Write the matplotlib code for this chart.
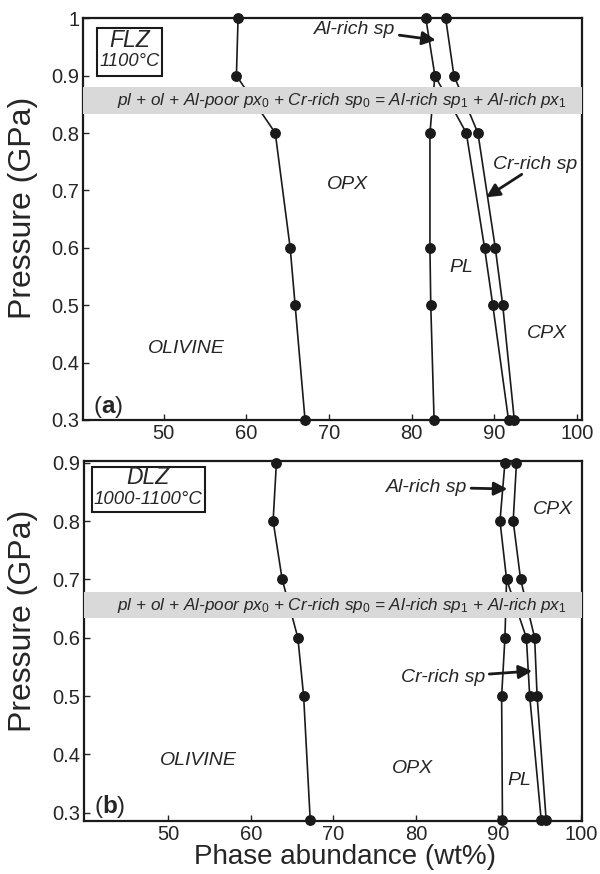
import matplotlib
matplotlib.use("Agg")
import matplotlib.pyplot as plt
import matplotlib.patches as patches

plt.rcParams['font.family'] = ['Liberation Sans', 'DejaVu Sans']
plt.rcParams['mathtext.fontset'] = 'custom'
plt.rcParams['mathtext.rm'] = 'Liberation Sans'
plt.rcParams['mathtext.it'] = 'Liberation Sans:italic'
plt.rcParams['mathtext.bf'] = 'Liberation Sans:bold'

# (a) FLZ, 1100 C - phase boundaries (cumulative wt%) vs pressure
flz_p = [1.0, 0.9, 0.8, 0.6, 0.5, 0.3]
flz_ol_opx = [59.0, 58.8, 63.5, 65.3, 65.9, 67.1]
flz_opx_pl = [81.7, 82.8, 82.2, 82.2, 82.3, 82.7]
flz_pl_sp_p = [0.9, 0.8, 0.6, 0.5, 0.3]
flz_pl_sp = [82.8, 86.6, 88.8, 89.8, 91.7]
flz_sp_cpx = [84.1, 85.1, 88.0, 90.1, 91.0, 92.4]
flz_band = (0.834, 0.880)

# (b) DLZ, 1000-1100 C
dlz_p = [0.9, 0.8, 0.7, 0.6, 0.5, 0.287]
dlz_ol_opx = [63.1, 62.7, 63.8, 65.7, 66.4, 67.2]
dlz_opx_pl = [90.8, 90.2, 91.0, 90.8, 90.4, 90.5]
dlz_pl_sp_p = [0.7, 0.6, 0.5, 0.287]
dlz_pl_sp = [91.0, 93.4, 93.8, 95.2]
dlz_sp_cpx = [92.2, 91.8, 92.7, 94.4, 94.7, 95.8]
dlz_band = (0.633, 0.679)

x_ticks = [50, 60, 70, 80, 90, 100]
reaction = (r'pl + ol + Al-poor px$_0$ + Cr-rich sp$_0$ = '
            r'Al-rich sp$_1$ + Al-rich px$_1$')

LINE = '#1a1a1a'
TEXT = '#262626'


def draw_boundary(ax, xs, ps):
    ax.plot(xs, ps, '-', color=LINE, lw=1.2, zorder=3, clip_on=False)
    ax.plot(xs, ps, 'o', color=LINE, ms=6.8, zorder=4, clip_on=False)


def style_axes(ax, xlim, ylim, yticks, ylab_y):
    ax.set_xlim(*xlim)
    ax.set_ylim(*ylim)
    ax.set_xticks(x_ticks)
    ax.set_yticks(yticks)
    ax.set_yticklabels(['%g' % v for v in yticks])
    ax.tick_params(direction='in', length=4, width=1, labelsize=14.5,
                   colors=TEXT, pad=3)
    for s in ax.spines.values():
        s.set_linewidth(1.6)
        s.set_color(LINE)
    ax.set_ylabel('Pressure (GPa)', fontsize=23, color=TEXT)
    ax.yaxis.set_label_coords(-0.092, ylab_y)


def draw_band(ax, band, xc):
    # grey strip for the reaction, drawn over the boundary lines
    ax.axhspan(band[0], band[1], color='#d9d9d9', lw=0, zorder=3.5)
    ax.text(xc, (band[0] + band[1]) / 2, reaction, fontsize=12.3,
            style='italic', ha='center', va='center', color=TEXT, zorder=5)


def label(ax, x, y, s, size=14):
    ax.text(x, y, s, fontsize=size, style='italic', ha='center', va='center',
            color=TEXT, zorder=5)


def arrow(ax, text_xy, tip_xy, s):
    ax.annotate(s, xy=tip_xy, xytext=text_xy, fontsize=14, style='italic',
                ha='right', va='center', color=TEXT, zorder=6,
                arrowprops=dict(arrowstyle='-|>', lw=2, color=LINE,
                                mutation_scale=20, shrinkA=1, shrinkB=0))


def zone_box(ax, x0, y0, w, h, lines):
    ax.add_patch(patches.Rectangle((x0, y0), w, h, fill=False, ec=LINE,
                                   lw=1.5, zorder=5))
    for (yy, txt, size) in lines:
        label(ax, x0 + w / 2, yy, txt, size)


fig = plt.figure(figsize=(6, 8.74), dpi=100)

# panel (a)
ax1 = fig.add_axes([0.139, 0.5195, 0.8312, 0.4596])
style_axes(ax1, (40.3, 100.6), (0.3, 1.0),
           [0.3, 0.4, 0.5, 0.6, 0.7, 0.8, 0.9, 1.0], 0.528)
draw_band(ax1, flz_band, 71.6)
draw_boundary(ax1, flz_ol_opx, flz_p)
draw_boundary(ax1, flz_opx_pl, flz_p)
draw_boundary(ax1, flz_pl_sp, flz_pl_sp_p)
draw_boundary(ax1, flz_sp_cpx, flz_p)
label(ax1, 52.7, 0.425, 'OLIVINE')
label(ax1, 72.2, 0.71, 'OPX')
label(ax1, 86.0, 0.566, 'PL')
label(ax1, 96.3, 0.45, 'CPX')
arrow(ax1, (78.0, 0.981), (82.9, 0.962), 'Al-rich sp')
ax1.annotate('', xy=(89.0, 0.688), xytext=(93.3, 0.728),
             arrowprops=dict(arrowstyle='-|>', lw=2, color=LINE,
                             mutation_scale=20, shrinkA=0, shrinkB=0), zorder=6)
label(ax1, 94.9, 0.745, 'Cr-rich sp')
zone_box(ax1, 41.9, 0.9, 7.9, 0.083,
         [(0.962, 'FLZ', 16.5), (0.925, '1100°C', 13.2)])
ax1.text(41.5, 0.322, r'($\mathbf{a}$)', fontsize=17.5, ha='left', va='center',
         color=TEXT)

# panel (b)
ax2 = fig.add_axes([0.1403, 0.0604, 0.8305, 0.4125])
style_axes(ax2, (39.8, 100.2), (0.2854, 0.9035),
           [0.3, 0.4, 0.5, 0.6, 0.7, 0.8, 0.9], 0.556)
draw_band(ax2, dlz_band, 71.0)
draw_boundary(ax2, dlz_ol_opx, dlz_p)
draw_boundary(ax2, dlz_opx_pl, dlz_p)
draw_boundary(ax2, dlz_pl_sp, dlz_pl_sp_p)
draw_boundary(ax2, dlz_sp_cpx, dlz_p)
label(ax2, 53.6, 0.389, 'OLIVINE')
label(ax2, 79.6, 0.376, 'OPX')
label(ax2, 92.6, 0.355, 'PL')
label(ax2, 96.6, 0.82, 'CPX')
arrow(ax2, (86.2, 0.858), (91.1, 0.855), 'Al-rich sp')
arrow(ax2, (88.4, 0.532), (94.1, 0.543), 'Cr-rich sp')
zone_box(ax2, 40.7, 0.816, 13.7, 0.077,
         [(0.875, 'DLZ', 16.5), (0.837, '1000-1100°C', 13.4)])
ax2.text(41.0, 0.311, r'($\mathbf{b}$)', fontsize=17.5, ha='left', va='center',
         color=TEXT)
ax2.set_xlabel('Phase abundance (wt%)', fontsize=20, color=TEXT)
ax2.xaxis.set_label_coords(0.523, -0.064)

fig.savefig('out.png', dpi=100)
